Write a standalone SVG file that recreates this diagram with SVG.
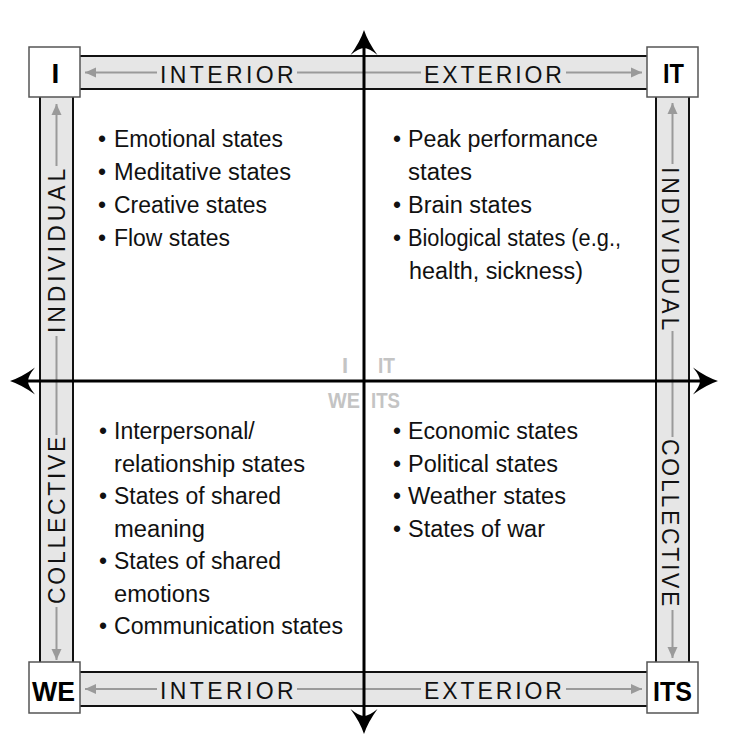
<svg xmlns="http://www.w3.org/2000/svg" width="729" height="749" viewBox="0 0 729 749">
  <style>
    .bar { fill: #e6e6e6; stroke: #111; stroke-width: 2; }
    .box { fill: #fff; stroke: #555; stroke-width: 1.5; }
    .corner { font-family: "Liberation Sans", Arial, sans-serif; font-weight: bold; font-size: 28px; fill: #000; }
    .band { font-family: "Liberation Sans", Arial, sans-serif; font-size: 23px; fill: #111; }
    .item { font-family: "Liberation Sans", Arial, sans-serif; font-size: 23px; fill: #111; }
    .mid { font-family: "Liberation Sans", Arial, sans-serif; font-weight: bold; font-size: 22px; fill: #c4c4c4; }
    .guide { stroke: #9a9a9a; stroke-width: 2; fill: none; }
    .axis { stroke: #000; stroke-width: 3; fill: none; }
  </style>
  <defs>
    <marker id="tip-gray" viewBox="-12 -6 12 12" refX="0" refY="0" markerWidth="12" markerHeight="12" markerUnits="userSpaceOnUse" orient="auto">
      <path d="M0,0 L-11,-5 L-11,5 Z" fill="#9a9a9a"/>
    </marker>
    <marker id="tip-axis" viewBox="-34 -15 34 30" refX="-8" refY="0" markerWidth="34" markerHeight="30" markerUnits="userSpaceOnUse" orient="auto-start-reverse">
      <path d="M0,0 Q-12,-4 -25,-13.5 Q-18,-5 -18,0 Q-18,5 -25,13.5 Q-12,4 0,0 Z" fill="#000"/>
    </marker>
  </defs>

  <rect width="729" height="749" fill="#fff"/>

  <!-- frame bands -->
  <g id="band-top">
    <rect class="bar" x="55" y="56" width="617" height="33"/>
    <text class="band" x="160" y="83" letter-spacing="3.4">INTERIOR</text>
    <text class="band" x="424" y="83" letter-spacing="2.9">EXTERIOR</text>
  </g>
  <g id="band-bottom">
    <rect class="bar" x="55" y="672" width="617" height="34"/>
    <text class="band" x="160" y="699" letter-spacing="3.4">INTERIOR</text>
    <text class="band" x="424" y="699" letter-spacing="2.9">EXTERIOR</text>
  </g>
  <g id="band-left">
    <rect class="bar" x="40" y="72" width="33" height="617"/>
    <text class="band" transform="translate(65,333) rotate(-90)" letter-spacing="3.9">INDIVIDUAL</text>
    <text class="band" transform="translate(65,604) rotate(-90)" letter-spacing="2.7">COLLECTIVE</text>
  </g>
  <g id="band-right">
    <rect class="bar" x="656" y="72" width="33" height="617"/>
    <text class="band" transform="translate(662,167) rotate(90)" letter-spacing="3.8">INDIVIDUAL</text>
    <text class="band" transform="translate(662,439) rotate(90)" letter-spacing="2.7">COLLECTIVE</text>
  </g>

  <!-- connectors: direction guides and the two axes -->
  <g id="connectors">
    <line class="guide" x1="157" y1="72.5" x2="85" y2="72.5" marker-end="url(#tip-gray)"/>
    <line class="guide" x1="297" y1="72.5" x2="421" y2="72.5"/>
    <line class="guide" x1="566" y1="72.5" x2="642" y2="72.5" marker-end="url(#tip-gray)"/>
    <line class="guide" x1="157" y1="689" x2="85" y2="689" marker-end="url(#tip-gray)"/>
    <line class="guide" x1="297" y1="689" x2="421" y2="689"/>
    <line class="guide" x1="566" y1="689" x2="642" y2="689" marker-end="url(#tip-gray)"/>
    <line class="guide" x1="56.5" y1="166" x2="56.5" y2="104" marker-end="url(#tip-gray)"/>
    <line class="guide" x1="56.5" y1="336" x2="56.5" y2="435"/>
    <line class="guide" x1="56.5" y1="607" x2="56.5" y2="660" marker-end="url(#tip-gray)"/>
    <line class="guide" x1="672.5" y1="164" x2="672.5" y2="103" marker-end="url(#tip-gray)"/>
    <line class="guide" x1="672.5" y1="331" x2="672.5" y2="437"/>
    <line class="guide" x1="672.5" y1="610" x2="672.5" y2="658" marker-end="url(#tip-gray)"/>
    <line class="axis" x1="364" y1="38" x2="364" y2="726" marker-start="url(#tip-axis)" marker-end="url(#tip-axis)"/>
    <line class="axis" x1="18" y1="381" x2="710" y2="381" marker-start="url(#tip-axis)" marker-end="url(#tip-axis)"/>
  </g>

  <!-- corner boxes -->
  <g id="corner-i">
    <rect class="box" x="29" y="47" width="51" height="50"/>
    <text class="corner" x="51.5" y="83">I</text>
  </g>
  <g id="corner-it">
    <rect class="box" x="647" y="47" width="51" height="50"/>
    <text class="corner" x="663" y="83" textLength="21" lengthAdjust="spacingAndGlyphs">IT</text>
  </g>
  <g id="corner-we">
    <rect class="box" x="29" y="662" width="51" height="51"/>
    <text class="corner" x="32" y="701" textLength="43" lengthAdjust="spacingAndGlyphs">WE</text>
  </g>
  <g id="corner-its">
    <rect class="box" x="647" y="662" width="51" height="51"/>
    <text class="corner" x="653" y="701" textLength="39" lengthAdjust="spacingAndGlyphs">ITS</text>
  </g>

  <!-- centre quadrant tags -->
  <g id="center-tags">
    <text class="mid" x="342" y="373">I</text>
    <text class="mid" x="378" y="373" textLength="17" lengthAdjust="spacingAndGlyphs">IT</text>
    <text class="mid" x="328" y="408" textLength="32" lengthAdjust="spacingAndGlyphs">WE</text>
    <text class="mid" x="371" y="408" textLength="29" lengthAdjust="spacingAndGlyphs">ITS</text>
  </g>

  <!-- quadrant contents -->
  <g id="quadrant-i">
    <text class="item" x="98" y="147">•</text>
    <text class="item" x="114" y="147" textLength="169" lengthAdjust="spacingAndGlyphs">Emotional states</text>
    <text class="item" x="98" y="180">•</text>
    <text class="item" x="114" y="180" textLength="177" lengthAdjust="spacingAndGlyphs">Meditative states</text>
    <text class="item" x="98" y="213">•</text>
    <text class="item" x="114" y="213" textLength="153" lengthAdjust="spacingAndGlyphs">Creative states</text>
    <text class="item" x="98" y="246">•</text>
    <text class="item" x="114" y="246" textLength="116" lengthAdjust="spacingAndGlyphs">Flow states</text>
  </g>
  <g id="quadrant-it">
    <text class="item" x="393" y="147">•</text>
    <text class="item" x="408" y="147" textLength="190" lengthAdjust="spacingAndGlyphs">Peak performance</text>
    <text class="item" x="408" y="180" textLength="64" lengthAdjust="spacingAndGlyphs">states</text>
    <text class="item" x="393" y="213">•</text>
    <text class="item" x="408" y="213" textLength="124" lengthAdjust="spacingAndGlyphs">Brain states</text>
    <text class="item" x="393" y="246">•</text>
    <text class="item" x="408" y="246" textLength="213" lengthAdjust="spacingAndGlyphs">Biological states (e.g.,</text>
    <text class="item" x="409" y="279" textLength="174" lengthAdjust="spacingAndGlyphs">health, sickness)</text>
  </g>
  <g id="quadrant-we">
    <text class="item" x="99" y="439">•</text>
    <text class="item" x="114" y="439">Interpersonal/</text>
    <text class="item" x="114" y="472" textLength="191" lengthAdjust="spacingAndGlyphs">relationship states</text>
    <text class="item" x="99" y="504">•</text>
    <text class="item" x="114" y="504" textLength="167" lengthAdjust="spacingAndGlyphs">States of shared</text>
    <text class="item" x="114" y="537" textLength="91" lengthAdjust="spacingAndGlyphs">meaning</text>
    <text class="item" x="99" y="569">•</text>
    <text class="item" x="114" y="569" textLength="167" lengthAdjust="spacingAndGlyphs">States of shared</text>
    <text class="item" x="114" y="602" textLength="96" lengthAdjust="spacingAndGlyphs">emotions</text>
    <text class="item" x="99" y="634">•</text>
    <text class="item" x="114" y="634" textLength="229" lengthAdjust="spacingAndGlyphs">Communication states</text>
  </g>
  <g id="quadrant-its">
    <text class="item" x="393" y="439">•</text>
    <text class="item" x="408" y="439" textLength="170" lengthAdjust="spacingAndGlyphs">Economic states</text>
    <text class="item" x="393" y="472">•</text>
    <text class="item" x="408" y="472" textLength="150" lengthAdjust="spacingAndGlyphs">Political states</text>
    <text class="item" x="393" y="504">•</text>
    <text class="item" x="408" y="504" textLength="158" lengthAdjust="spacingAndGlyphs">Weather states</text>
    <text class="item" x="393" y="537">•</text>
    <text class="item" x="408" y="537" textLength="137" lengthAdjust="spacingAndGlyphs">States of war</text>
  </g>
</svg>
